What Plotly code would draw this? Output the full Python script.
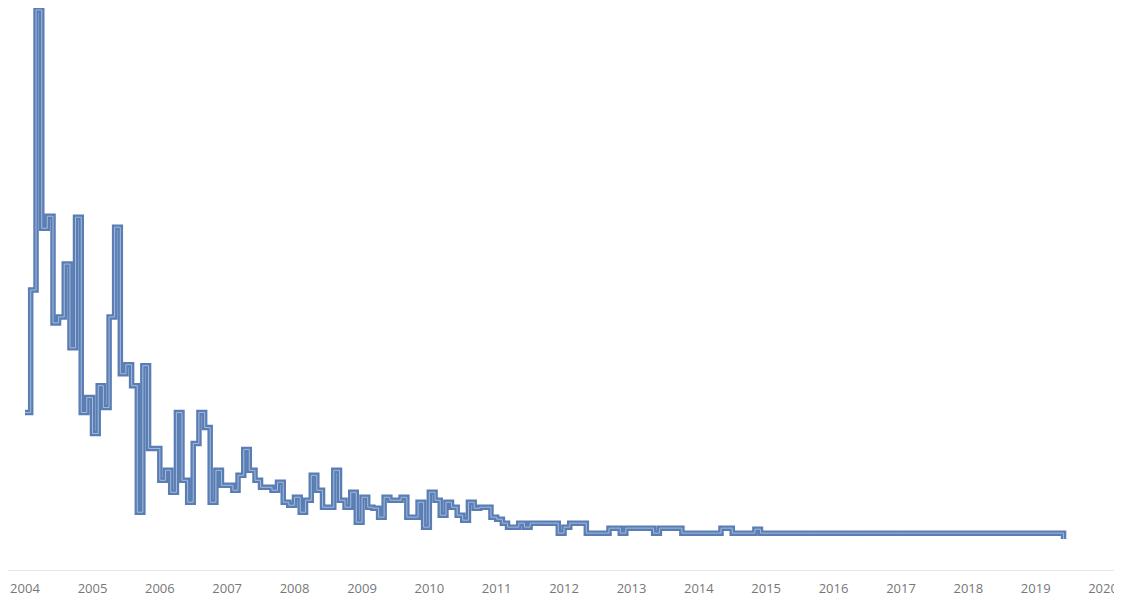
import pandas as pd
import plotly.graph_objects as go

# Monthly series, Jan 2004 .. Jun 2019 (arbitrary units)
start_month = "2004-01-01"
values = [
    31.6, 56.2, 112.4, 68.6, 71.0, 49.6, 50.8, 61.4, 44.6, 70.8, 31.6, 34.6,   # 2004
    27.4, 37.0, 32.6, 50.8, 68.8, 39.4, 41.2, 37.0, 11.6, 41.0, 24.4, 24.4,    # 2005
    18.0, 20.0, 15.6, 31.6, 18.0, 13.6, 25.4, 31.6, 28.6, 13.6, 20.0, 17.0,    # 2006
    17.0, 16.0, 19.0, 24.2, 20.0, 18.0, 16.6, 16.6, 16.0, 17.6, 13.6, 13.0,    # 2007
    14.6, 11.6, 14.0, 19.0, 16.0, 12.6, 12.6, 20.0, 14.0, 12.6, 15.6, 9.6,     # 2008
    14.6, 12.6, 12.4, 10.6, 14.6, 14.0, 14.0, 14.6, 10.6, 10.6, 13.6, 8.6,     # 2009
    15.6, 14.0, 11.0, 13.6, 12.6, 11.0, 10.0, 13.6, 12.4, 12.6, 12.6, 10.6,    # 2010
    10.2, 9.4, 8.6, 8.6, 9.4, 8.6, 9.4, 9.4, 9.4, 9.4, 9.4, 7.4,               # 2011
    8.6, 9.4, 9.4, 9.4, 7.4, 7.4, 7.4, 7.4, 8.4, 8.4, 7.4, 8.4,                # 2012
    8.4, 8.4, 8.4, 8.4, 7.4, 8.4, 8.4, 8.4, 8.4, 7.4, 7.4, 7.4,                # 2013
    7.4, 7.4, 7.4, 7.4, 8.4, 8.4, 7.4, 7.4, 7.4, 7.4, 8.2, 7.4,                # 2014
    7.4, 7.4, 7.4, 7.4, 7.4, 7.4, 7.4, 7.4, 7.4, 7.4, 7.4, 7.4,                # 2015
    7.4, 7.4, 7.4, 7.4, 7.4, 7.4, 7.4, 7.4, 7.4, 7.4, 7.4, 7.4,                # 2016
    7.4, 7.4, 7.4, 7.4, 7.4, 7.4, 7.4, 7.4, 7.4, 7.4, 7.4, 7.4,                # 2017
    7.4, 7.4, 7.4, 7.4, 7.4, 7.4, 7.4, 7.4, 7.4, 7.4, 7.4, 7.4,                # 2018
    7.4, 7.4, 7.4, 7.4, 7.4, 6.2,                                              # 2019
]
months = pd.date_range(start_month, periods=len(values), freq="MS")
tick_years = [str(y) for y in range(2004, 2021)]

fig = go.Figure()
fig.add_trace(go.Scatter(
    x=months, y=values, mode="lines",
    line=dict(shape="hv", color="#5a7db4", width=5.5),
    hoverinfo="skip", showlegend=False, cliponaxis=False,
))
fig.add_trace(go.Scatter(
    x=months, y=values, mode="lines",
    line=dict(shape="hv", color="#a3bcdc", width=1.0),
    hoverinfo="skip", showlegend=False, cliponaxis=False,
))

fig.update_layout(
    width=1114, height=591,
    margin=dict(l=0, r=2, t=0, b=29),
    paper_bgcolor="white", plot_bgcolor="white",
    font=dict(family="Open Sans, Noto Sans, sans-serif", color="#777777", size=13),
)
fig.update_xaxes(
    type="date",
    range=["2003-10-01", "2020-04-02"],
    tickvals=[f"{y}-01-01" for y in tick_years],
    ticktext=tick_years,
    showgrid=False, zeroline=False,
    showline=True, linecolor="#e6e6e6", linewidth=1,
    ticks="outside", ticklen=6, tickcolor="rgba(0,0,0,0)",
    tickfont=dict(size=13, color="#777777"),
)
fig.update_yaxes(range=[0, 112.8], visible=False, showgrid=False, zeroline=False)

fig.write_html("out.html")
